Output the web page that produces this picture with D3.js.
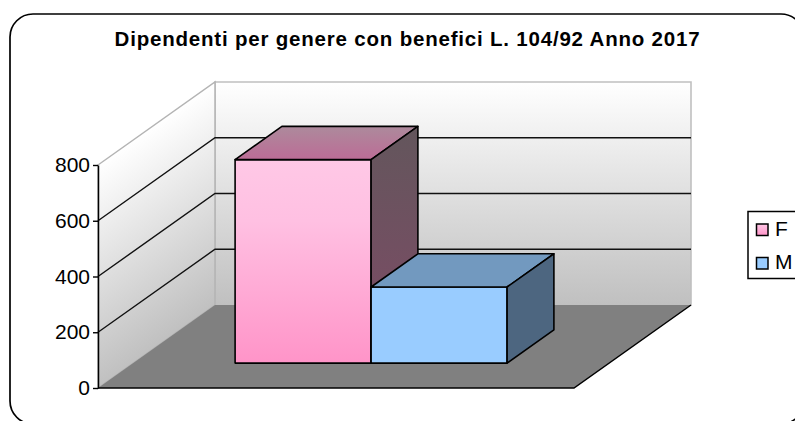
<!DOCTYPE html>
<html>
<head>
<meta charset="utf-8">
<script src="https://cdn.jsdelivr.net/npm/d3@7"></script>
<style>
html, body { margin: 0; padding: 0; background: #fff; overflow: hidden; }
text { font-family: "Liberation Sans", Arial, sans-serif; fill: #000; }
</style>
</head>
<body>
<svg id="chart" width="795" height="421"></svg>
<script>
var categories = ["F", "M"];
var values = [730, 273];
var tickValues = [0, 200, 400, 600, 800];
var titleText = "Dipendenti per genere con benefici L. 104/92 Anno 2017";

var svg = d3.select("#chart");
var defs = svg.append("defs");

// front corner of the floor, and how far the 3d depth pushes things
var left = 98, bottom = 388, plotW = 476, plotH = 223;
var depthX = 117, depthY = -83;

var xScale = d3.scaleBand().domain(categories).range([left, left + plotW]).paddingInner(0).paddingOuter(0.75);
var yScale = d3.scaleLinear().domain([0, 800]).range([bottom, bottom - plotH]);
var zX = d3.scaleLinear().domain([0, 1]).range([0, depthX]);
var zY = d3.scaleLinear().domain([0, 1]).range([0, depthY]);

// x px, value, depth 0..1 -> screen point
function pt(x, v, z) {
    return [x + zX(z), yScale(v) + zY(z)];
}
function poly(points) {
    return d3.line()(points) + "Z";
}
function grad(id, x1, y1, x2, y2, stops, transform) {
    var g = defs.append("linearGradient").attr("id", id)
        .attr("gradientUnits", "userSpaceOnUse")
        .attr("x1", x1).attr("y1", y1).attr("x2", x2).attr("y2", y2);
    if (transform) g.attr("gradientTransform", transform);
    stops.forEach(function(s) {
        g.append("stop").attr("offset", s[0]).attr("stop-color", s[1]);
    });
}

var xMax = left + plotW;
var yTop = yScale(800), yBase = yScale(0);

grad("wallBack", 0, yTop + depthY, 0, yBase + depthY, [[0, "#ffffff"], [1, "#c0c0c0"]]);
var slope = Math.atan(depthY / depthX) * 180 / Math.PI;
grad("wallLeft", left, yTop, left, yBase, [[0, "#ffffff"], [1, "#c0c0c0"]],
    "translate(" + left + ",0) skewY(" + slope + ") translate(" + (-left) + ",0)");

// chart frame, runs off the page on the right and bottom
svg.append("rect").attr("x", 10).attr("y", 14).attr("width", 794).attr("height", 410)
    .attr("rx", 23).attr("ry", 23)
    .attr("fill", "#fff").attr("stroke", "#000").attr("stroke-width", 1.7);

// walls and floor
svg.append("path")
    .attr("d", poly([pt(left, 800, 1), pt(xMax, 800, 1), pt(xMax, 0, 1), pt(left, 0, 1)]))
    .attr("fill", "url(#wallBack)").attr("stroke", "#c0c0c0").attr("stroke-width", 1.6);
svg.append("path")
    .attr("d", poly([pt(left, 800, 0), pt(left, 800, 1), pt(left, 0, 1), pt(left, 0, 0)]))
    .attr("fill", "url(#wallLeft)").attr("stroke", "#b4b4b4").attr("stroke-width", 1.5);
svg.append("path")
    .attr("d", poly([pt(left, 0, 0), pt(left, 0, 1), pt(xMax, 0, 1), pt(xMax, 0, 0)]))
    .attr("fill", "#808080");

// floor outline on the front and right
svg.append("path")
    .attr("d", d3.line()([pt(left, 0, 0), pt(xMax, 0, 0), pt(xMax, 0, 1)]))
    .attr("fill", "none").attr("stroke", "#000").attr("stroke-width", 1.5);

// gridlines round the two walls
svg.append("g").selectAll("path")
    .data(tickValues.filter(function(d) { return d > 0 && d < 800; }))
    .join("path")
    .attr("d", function(d) { return d3.line()([pt(left, d, 0), pt(left, d, 1), pt(xMax, d, 1)]); })
    .attr("fill", "none").attr("stroke", "#111").attr("stroke-width", 1.4);

// bars
var barZ0 = 0.3, barZ1 = 0.7;
var fills = {
    F: { front: "barF", top: "barFTop", side: "barFSide" },
    M: { front: "#99ccff", top: "#7299bf", side: "#4d6680" }
};
grad("barF", 0, yScale(values[0]) + zY(barZ0), 0, yBase + zY(barZ0), [[0, "#ffc8e6"], [0.3, "#ffc0e2"], [1, "#ff94c8"]]);
grad("barFTop", 0, yScale(values[0]) + zY(barZ1), 0, yScale(values[0]) + zY(barZ0), [[0, "#ad8a9c"], [1, "#bc6c96"]]);
grad("barFSide", 0, yScale(values[0]) + zY(barZ1), 0, yBase + zY(barZ0), [[0, "#63565c"], [1, "#7f4a66"]]);

function paint(f) {
    return f.charAt(0) === "#" ? f : "url(#" + f + ")";
}

var bars = svg.append("g").selectAll("g")
    .data(categories)
    .join("g")
    .attr("stroke", "#000").attr("stroke-width", 1.6).attr("stroke-linejoin", "round");

bars.each(function(c, i) {
    var g = d3.select(this);
    var x0 = xScale(c), x1 = x0 + xScale.bandwidth(), v = values[i];
    g.append("path").attr("fill", paint(fills[c].front))
        .attr("d", poly([pt(x0, v, barZ0), pt(x1, v, barZ0), pt(x1, 0, barZ0), pt(x0, 0, barZ0)]));
    g.append("path").attr("fill", paint(fills[c].top))
        .attr("d", poly([pt(x0, v, barZ0), pt(x0, v, barZ1), pt(x1, v, barZ1), pt(x1, v, barZ0)]));
    g.append("path").attr("fill", paint(fills[c].side))
        .attr("d", poly([pt(x1, v, barZ0), pt(x1, v, barZ1), pt(x1, 0, barZ1), pt(x1, 0, barZ0)]));
});

// value axis
var yAxis = d3.axisLeft(yScale).tickValues(tickValues).tickSize(5).tickSizeOuter(0).tickPadding(3);
var axisG = svg.append("g").attr("transform", "translate(" + left + ",0)").call(yAxis);
axisG.selectAll("text").style("font-family", '"Liberation Sans", Arial, sans-serif').style("font-size", "21px").attr("fill", "#000");
axisG.selectAll("line").attr("stroke", "#000").attr("stroke-width", 1.4);
axisG.select(".domain").attr("stroke", "#000").attr("stroke-width", 1.5);

// title
svg.append("text").attr("x", 407.5).attr("y", 46).attr("text-anchor", "middle")
    .style("font-size", "20.5px").style("font-weight", "bold").style("letter-spacing", "0.8px")
    .text(titleText);

// legend, clipped by the page edge
svg.append("rect").attr("x", 748).attr("y", 211.5).attr("width", 60).attr("height", 67)
    .attr("fill", "#fff").attr("stroke", "#000").attr("stroke-width", 1.5);
var legendY = d3.scalePoint().domain(categories).range([229.5, 263]);
var legend = svg.append("g").selectAll("g").data(categories).join("g")
    .attr("transform", function(c) { return "translate(756," + legendY(c) + ")"; });
legend.append("rect").attr("x", 0.5).attr("y", -5.5).attr("width", 11.5).attr("height", 11.5)
    .attr("fill", function(c) { return paint(fills[c].front === "barF" ? "legendF" : fills[c].front); })
    .attr("stroke", "#000").attr("stroke-width", 1.5);
defs.append("linearGradient").attr("id", "legendF").attr("x1", 0).attr("y1", 0).attr("x2", 0).attr("y2", 1)
    .selectAll("stop").data([[0, "#ffc8e6"], [1, "#ff94c8"]]).join("stop")
    .attr("offset", function(d) { return d[0]; }).attr("stop-color", function(d) { return d[1]; });
legend.append("text").attr("x", 19).attr("y", 6)
    .style("font-size", "21px")
    .text(function(c) { return c; });
</script>
</body>
</html>
